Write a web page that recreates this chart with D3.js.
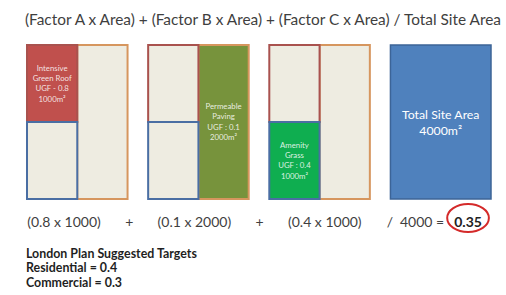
<!DOCTYPE html>
<html>
<head>
<meta charset="utf-8">
<script src="https://cdn.jsdelivr.net/npm/d3@7"></script>
<style>
body { margin: 0; background: #fff; }
svg { display: block; font-family: Lato, 'Open Sans', sans-serif; }
</style>
</head>
<body>
<svg id="chart" width="506" height="295"></svg>
<script>
// values
var factorNames = ['A', 'B', 'C'];
var factors = [0.8, 0.1, 0.4];
var areas = [1000, 2000, 1000];
var totalArea = 4000;
var ugfScore = 0.35;
var surfaceLabels = [
	['Intensive', 'Green Roof', 'UGF - 0.8', '1000m\u00b2'],
	['Permeable', 'Paving', 'UGF : 0.1', '2000m\u00b2'],
	['Amenity', 'Grass', 'UGF : 0.4', '1000m\u00b2']
];
var totalLabel = ['Total Site Area', '4000m\u00b2'];
var titleText = '(Factor A x Area) + (Factor B x Area) + (Factor C x Area) / Total Site Area';
var operators = ['+', '+', '/'];
var targetLines = ['London Plan Suggested Targets', 'Residential = 0.4', 'Commercial = 0.3'];

// styles
var cream = '#eeece1';
var strokeCols = ['#a9524e', '#d6965e', '#4a6ea3'];
var fillCols = ['#c0504d', '#77933c', '#0fae50'];
var textCol = '#3f3f3f';

var svg = d3.select('#chart');

// each panel is the whole site, split in 1000m2 quadrants
var unit = totalArea / 4;
var cells = [
	{ idx: 0, col: 0, row: 0, cols: 1, rows: areas[0] / unit },
	{ idx: 1, col: 1, row: 0, cols: 1, rows: areas[1] / unit },
	{ idx: 2, col: 0, row: 1, cols: 1, rows: areas[2] / unit }
];
var drawOrder = [1, 0, 2];

var panelX = d3.scaleBand()
	.domain([0, 1, 2, 3])
	.range([27, 491])
	.paddingInner(0.17);
var y = d3.scaleLinear().domain([0, 2]).range([45, 199]);

factorNames.forEach(function(name, p) {
	var x = d3.scaleLinear().domain([0, 2]).range([panelX(p), panelX(p) + panelX.bandwidth()]);
	var g = svg.append('g').attr('class', 'panel-' + name);

	drawOrder.forEach(function(ci) {
		var c = cells[ci];
		g.append('rect')
			.attr('x', x(c.col))
			.attr('y', y(c.row))
			.attr('width', x(c.col + c.cols) - x(c.col))
			.attr('height', y(c.row + c.rows) - y(c.row))
			.attr('fill', c.idx === p ? fillCols[p] : cream)
			.attr('stroke', strokeCols[c.idx])
			.attr('stroke-width', 2);
	});

	var c = cells[p];
	var cx = (x(c.col) + x(c.col + c.cols)) / 2;
	var cy = (y(c.row) + y(c.row + c.rows)) / 2;
	var lines = surfaceLabels[p];
	g.append('text')
		.attr('text-anchor', 'middle')
		.attr('fill', '#fff')
		.attr('fill-opacity', 0.85)
		.attr('font-size', 7.8)
		.selectAll('tspan')
		.data(lines)
		.join('tspan')
		.attr('x', cx)
		.attr('y', function(d, i) { return cy + (i - (lines.length - 1) / 2) * 10.3 + 2.6; })
		.text(function(d) { return d; });
});

// total site panel
var tx = panelX(3);
svg.append('rect')
	.attr('x', tx)
	.attr('y', y(0))
	.attr('width', panelX.bandwidth())
	.attr('height', y(2) - y(0))
	.attr('fill', '#4f81bd')
	.attr('stroke', '#3c6497')
	.attr('stroke-width', 1.5);
svg.append('text')
	.attr('text-anchor', 'middle')
	.attr('fill', '#fff')
	.attr('font-size', 12.3)
	.selectAll('tspan')
	.data(totalLabel)
	.join('tspan')
	.attr('x', tx + panelX.bandwidth() / 2)
	.attr('y', function(d, i) { return 119 + i * 16; })
	.text(function(d) { return d; });

// title
svg.append('text')
	.attr('x', 25)
	.attr('y', 25)
	.attr('font-size', 15.4)
	.attr('fill', textCol)
	.text(titleText);

// formula row
var tokens = [];
factors.forEach(function(f, i) {
	tokens.push('(' + f + ' x ' + areas[i] + ')');
	tokens.push(operators[i]);
});
var tokenX = d3.scalePoint().domain(d3.range(tokens.length)).range([64, 390]);
svg.append('g')
	.selectAll('text')
	.data(tokens)
	.join('text')
	.attr('x', function(d, i) { return tokenX(i); })
	.attr('y', 227)
	.attr('text-anchor', 'middle')
	.attr('font-size', 14)
	.attr('fill', textCol)
	.text(function(d) { return d; });

var tx0 = tokenX(tokens.length - 1) + 10;
var totalText = svg.append('text')
	.attr('x', tx0)
	.attr('y', 227)
	.attr('font-size', 14)
	.attr('fill', textCol)
	.text(totalArea + ' =');
var rx0 = tx0 + totalText.node().getComputedTextLength() + 10;
var result = svg.append('text')
	.attr('x', rx0)
	.attr('y', 227)
	.attr('font-size', 14)
	.attr('font-weight', 'bold')
	.attr('fill', '#222')
	.text(ugfScore.toFixed(2));
var rw = result.node().getComputedTextLength();
svg.append('ellipse')
	.attr('cx', rx0 + rw / 2)
	.attr('cy', 218)
	.attr('rx', rw / 2 + 7)
	.attr('ry', 14)
	.attr('fill', 'none')
	.attr('stroke', '#d42a2a')
	.attr('stroke-width', 2);

// targets
svg.append('g')
	.selectAll('text')
	.data(targetLines)
	.join('text')
	.attr('x', 26)
	.attr('y', function(d, i) { return 258 + i * 14.3; })
	.attr('font-size', 12.4)
	.attr('font-weight', 'bold')
	.attr('fill', '#1f1f1f')
	.text(function(d) { return d; });
</script>
</body>
</html>
